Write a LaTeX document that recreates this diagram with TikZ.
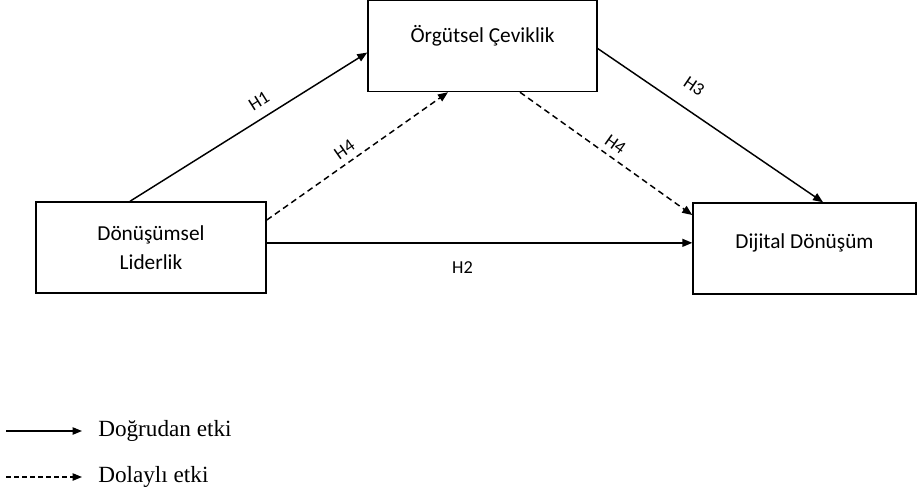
\documentclass[tikz,border=0pt]{standalone}
\usepackage{fontspec}
\setmainfont{Carlito}
\newfontfamily\legendfont{Liberation Serif}
\usetikzlibrary{arrows.meta}

\begin{document}
\begin{tikzpicture}[x=0.75pt,y=-0.75pt,
  box/.style={draw,line width=1.1pt,minimum height=68.25pt,font=\fontsize{16}{21.75}\selectfont,align=center},
  hyp/.style={font=\fontsize{13.7}{16}\selectfont,sloped},
  arr/.style={line width=1.1pt,-{Triangle[length=7.5pt,width=6pt]}},
  ind/.style={arr,dash pattern=on 4.5pt off 3pt},
  legsolid/.style={},legdash/.style={dash pattern=on 3.5pt off 2.5pt}]
\useasboundingbox (0,0) rectangle (917,494);
\node[box,minimum width=171.75pt,text height=12pt,text depth=18pt] (og) at (482.5,46) {Örgütsel Çeviklik};
\node[box,minimum width=172.5pt] (dl) at (151,247.5) {Dönüşümsel\\Liderlik};
\node[box,minimum width=167.25pt,text height=12pt,text depth=12pt] (dd) at (804.5,248.5) {Dijital Dönüşüm};
\draw[arr] ([xshift=-15.75pt]dl.north)--([yshift=-4.9pt]og.west) node[hyp,pos=0.58,above=4pt] (h1) {H1};
\draw[ind] ([yshift=20.6pt]dl.east)--([xshift=-25.9pt]og.south) node[hyp,pos=0.47,above=1.5pt] (h4a) {H4};
\draw[arr] ([yshift=3.5pt]dl.east)--([yshift=3.5pt]dl.east -| dd.west) node[hyp,pos=0.46,below=10pt] (h2) {H2};
\draw[ind] ([xshift=28.1pt]og.south)--([yshift=25.1pt]dd.west) node[hyp,pos=0.51,above=1.5pt] (h4b) {H4};
\draw[arr] ([yshift=-1.9pt]og.east)--([xshift=13.9pt]dd.north) node[hyp,pos=0.37,above=9pt] (h3) {H3};
% legend
\foreach \i/\y/\s/\t in {1/431/legsolid/Doğrudan etki,2/477/legdash/Dolaylı etki} {
\coordinate (s\i) at (6,\y);\node[anchor=west,font=\legendfont\fontsize{17.4}{20}\selectfont,inner sep=0pt] (t\i) at (98,\y) {\t};
\draw[line width=0.9pt,-{Triangle[length=7pt,width=5.5pt]},\s] (s\i)--([xshift=-12pt]t\i.west);}
\end{tikzpicture}
\end{document}
